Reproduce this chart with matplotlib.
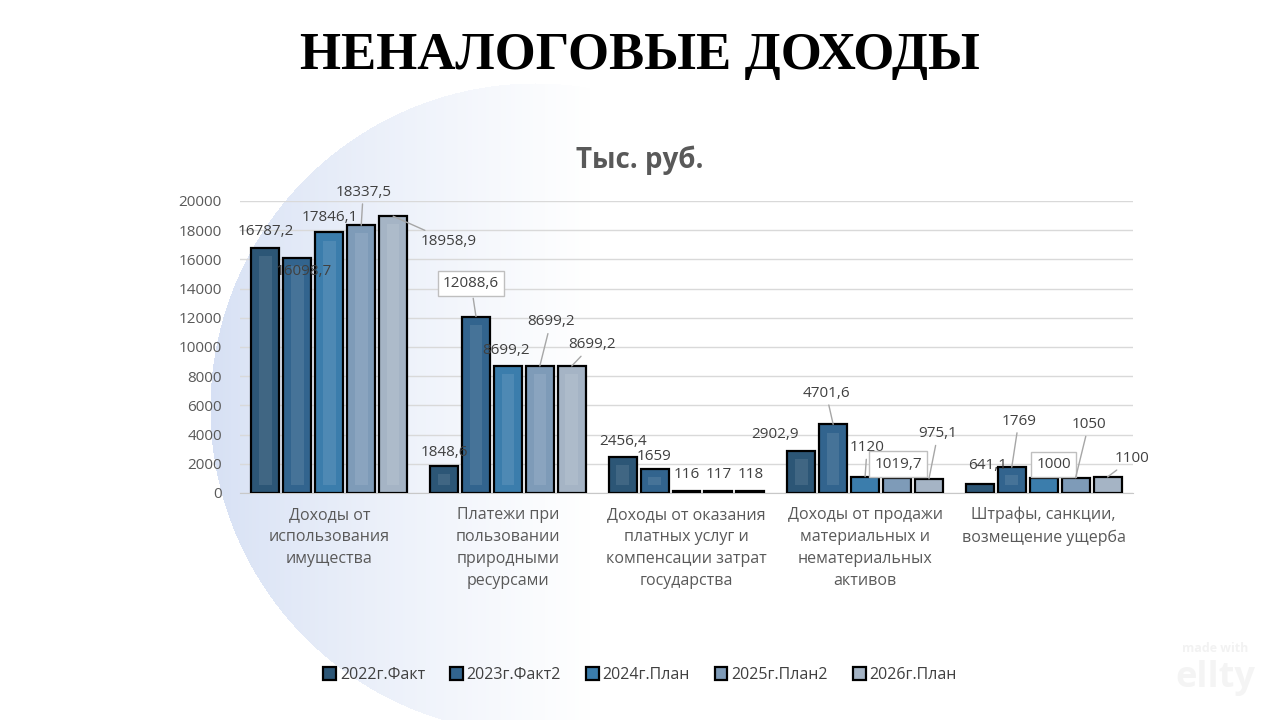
import numpy as np
import matplotlib
matplotlib.use("Agg")
import matplotlib.pyplot as plt
from matplotlib.colors import to_rgb

plt.rcParams["font.family"] = ["Open Sans", "DejaVu Sans"]

# data
categories = [
    "Доходы от\nиспользования\nимущества",
    "Платежи при\nпользовании\nприродными\nресурсами",
    "Доходы от оказания\nплатных услуг и\nкомпенсации затрат\nгосударства",
    "Доходы от продажи\nматериальных и\nнематериальных\nактивов",
    "Штрафы, санкции,\nвозмещение ущерба",
]
series_names = ["2022г.Факт", "2023г.Факт2", "2024г.План", "2025г.План2", "2026г.План"]
fact_2022 = [16787.2, 1848.6, 2456.4, 2902.9, 641.1]
fact2_2023 = [16098.7, 12088.6, 1659, 4701.6, 1769]
plan_2024 = [17846.1, 8699.2, 116, 1120, 1000]
plan2_2025 = [18337.5, 8699.2, 117, 1019.7, 1050]
plan_2026 = [18958.9, 8699.2, 118, 975.1, 1100]
series = [fact_2022, fact2_2023, plan_2024, plan2_2025, plan_2026]
yticks = list(range(0, 20001, 2000))

colors = ["#2c5676", "#32648e", "#3b7dac", "#7e9bb8", "#a5b4c5"]

# label offsets per series / category: (dx px, dy px up, leader line, box)
label_style = [
    [(0, 16, False, False), (0, 14, False, False), (0, 16, False, False), (-26, 16, False, False), (8, 18, False, False)],
    [(6, -14, False, False), (-5, 33, True, True), (0, 12, False, False), (-7, 31, True, False), (7, 46, True, False)],
    [(1, 15, False, False), (-2, 15, False, False), (0, 17, False, False), (2, 29, True, False), (10, 14, False, True)],
    [(2, 33, True, False), (11, 44, True, False), (0, 17, False, False), (1, 14, False, True), (13, 53, True, False)],
    [(56, -25, True, False), (20, 21, True, False), (0, 17, False, False), (9, 45, True, False), (24, 18, True, False)],
]

W, H = 1280, 720
fig = plt.figure(figsize=(12.8, 7.2), dpi=100)

# background circle gradient
bg = fig.add_axes([0, 0, 1, 1], zorder=-10)
yy, xx = np.mgrid[0:H, 0:W]
cx, cy, r = 535, 408, 325
inside = (xx - cx) ** 2 + (yy - cy) ** 2 <= r ** 2
t = np.clip((xx - (cx - r)) / 380.0, 0, 1) ** 0.8
blue = np.array([214, 224, 244]) / 255.0
img = np.ones((H, W, 3))
mix = blue[None, None, :] * (1 - t[..., None]) + 1.0 * t[..., None]
img[inside] = mix[inside]
bg.imshow(img, extent=[0, W, H, 0], aspect="auto", interpolation="bilinear")
bg.set_xlim(0, W)
bg.set_ylim(H, 0)
bg.axis("off")

ax = fig.add_axes([240 / W, 1 - 493 / H, 893 / W, 292 / H])
ax.set_facecolor("none")
n = len(categories)
x = np.arange(n)
pitch = 32 / 179
bw = 28 / 179
m = 560

for k, (vals, col) in enumerate(zip(series, colors)):
    pos = x + (k - 2) * pitch
    ax.bar(pos, vals, width=bw, color=col, edgecolor="black", linewidth=1.6,
           zorder=3, label=series_names[k])
    inner_c = tuple(0.82 * np.array(to_rgb(col)) + 0.18)
    inner_h = [max(v - 2 * m, 0) for v in vals]
    ax.bar(pos, inner_h, bottom=m, width=bw * 0.45, color=inner_c, alpha=0.55,
           linewidth=0, zorder=4)

for k, vals in enumerate(series):
    for i, v in enumerate(vals):
        dx, dy, lead, box = label_style[k][i]
        txt = f"{v:g}".replace(".", ",")
        kw = {}
        if lead:
            kw["arrowprops"] = dict(arrowstyle="-", color="#a6a6a6", lw=1,
                                    shrinkA=1, shrinkB=0)
        if box:
            kw["bbox"] = dict(boxstyle="square,pad=0.35", fc="white", ec="#bfbfbf", lw=1)
        ax.annotate(txt, xy=(i + (k - 2) * pitch, v), xytext=(dx, dy),
                    textcoords="offset pixels", ha="center", va="center",
                    fontsize=11, color="#404040", zorder=6,
                    annotation_clip=False, **kw)

ax.set_ylim(0, 20000)
ax.set_xlim(-0.5, n - 0.5)
ax.set_yticks(yticks)
ax.set_yticklabels([str(v) for v in yticks], fontsize=11, color="#595959")
ax.set_xticks(x)
ax.set_xticklabels(categories, fontsize=11.5, color="#595959", linespacing=1.5, va="top")
ax.tick_params(axis="both", length=0)
ax.tick_params(axis="y", pad=13)
ax.tick_params(axis="x", pad=10)
ax.grid(axis="y", color="#d9d9d9", lw=1, zorder=0)
for s in ["top", "right", "left"]:
    ax.spines[s].set_visible(False)
ax.spines["bottom"].set_color("#c8c8c8")

fig.text(0.5, 1 - 56 / H, "НЕНАЛОГОВЫЕ ДОХОДЫ", ha="center", va="center",
         fontsize=38, fontweight="bold", family="Liberation Serif", color="black")
fig.text(0.5, 1 - 160 / H, "Тыс. руб.", ha="center", va="center",
         fontsize=20, fontweight="bold", color="#595959")

handles, labels = ax.get_legend_handles_labels()
fig.legend(handles, labels, loc="center", bbox_to_anchor=(0.5, 1 - 675 / H), ncol=5,
           frameon=False, fontsize=11.5, handlelength=0.8, handleheight=0.8,
           handletextpad=0.25, columnspacing=1.55, labelcolor="#404040")

fig.text(1215 / W, 1 - 648 / H, "made with", ha="center", va="center",
         fontsize=9, fontweight="bold", color="#f2f2f2")
fig.text(1215 / W, 1 - 678 / H, "ellty", ha="center", va="center",
         fontsize=26, fontweight="bold", color="#f4f4f4")

fig.savefig("out.png", dpi=100)
